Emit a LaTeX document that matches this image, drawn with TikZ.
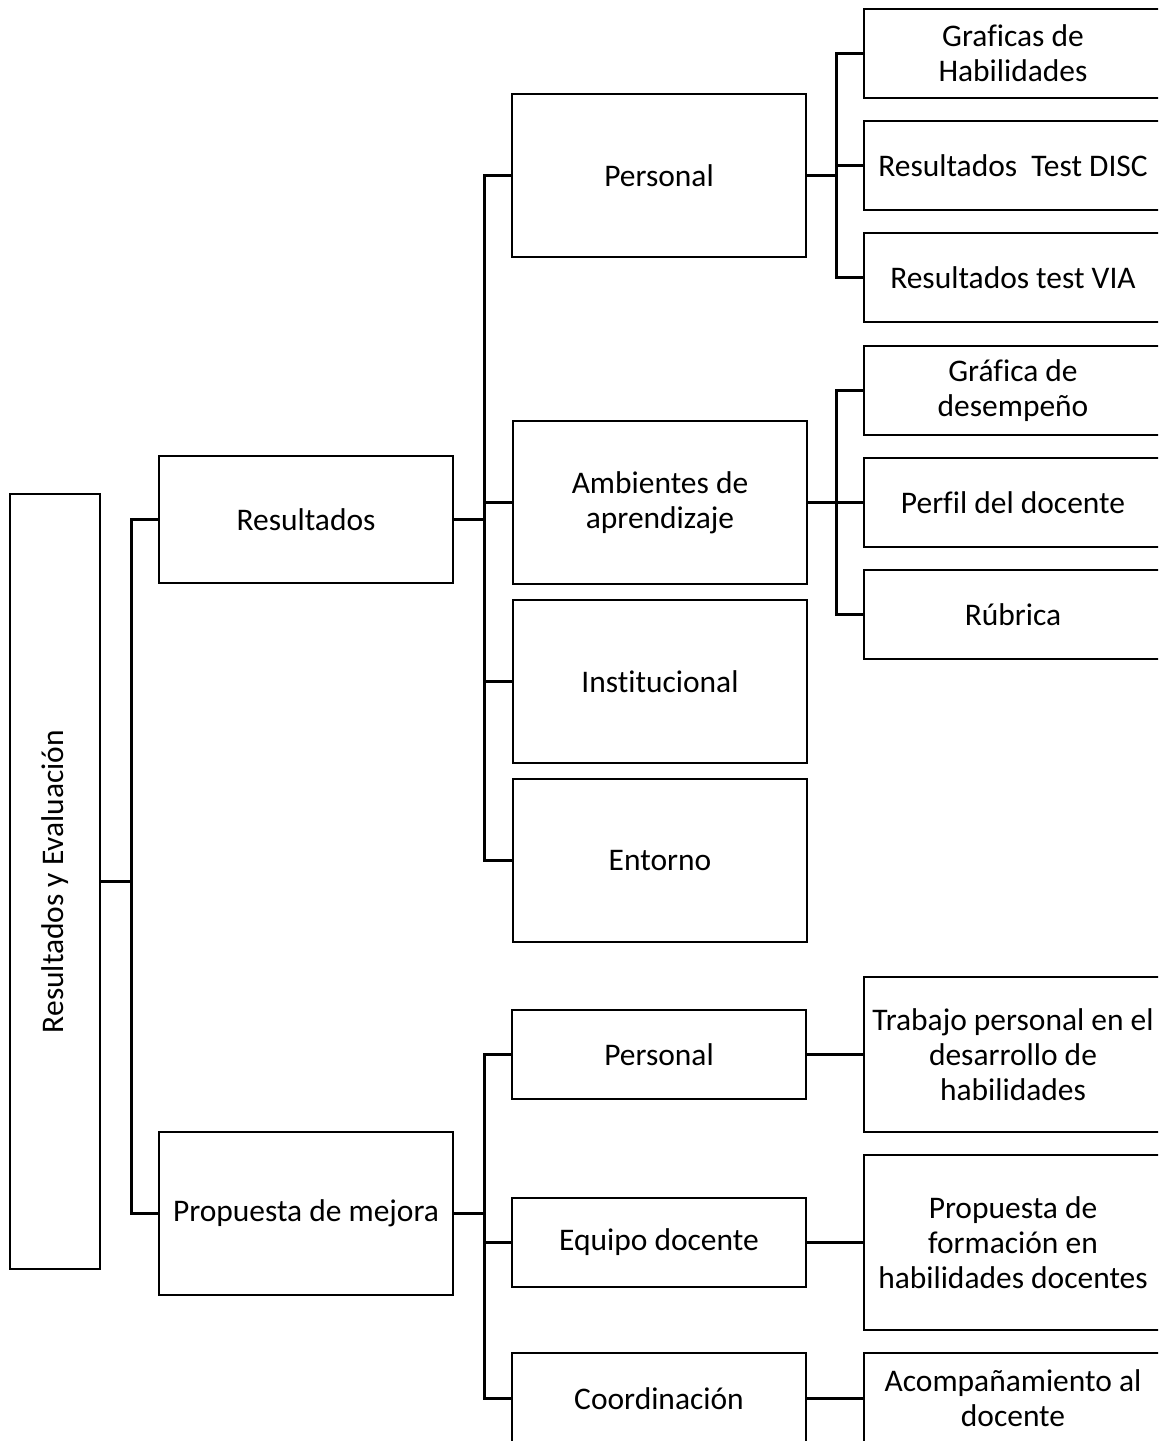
\documentclass[tikz,border=0pt]{standalone}
\usepackage{fontspec}
\setmainfont[Ligatures=NoCommon]{Carlito}
\newcommand\mybox[6]{\node[box, minimum width={(#4-#2)*0.75pt}, minimum height={(#5-#3)*0.75pt}] (#1) at ({(#2+#4)/2},{(#3+#5)/2}) {#6};}
\begin{document}
\begin{tikzpicture}[x=0.75pt,y=-0.75pt,
  box/.style={draw, line width=1.9pt, inner sep=0pt, align=center, font=\fontsize{23.6}{26.3}\selectfont},
  conn/.style={line width=1.9pt},
  lbl/.style={inner sep=0pt, font=\fontsize{23.6}{26.3}\selectfont}]
\useasboundingbox (0,0) rectangle (1158,1441);
\clip (0,0) rectangle (1158,1441);
% root
\mybox{root}{10}{494}{100}{1269}{}
\node[lbl, rotate=90] (roottext) at (root.center) {Resultados y Evaluación};
% level 1
\mybox{res}{159}{456}{453}{583}{Resultados}
\mybox{prop}{159}{1132}{453}{1295}{Propuesta de mejora}
% level 2 (Resultados)
\mybox{per}{512}{94}{806}{257}{Personal}
\mybox{amb}{513}{421}{807}{584}{Ambientes de\\aprendizaje}
\mybox{inst}{513}{600}{807}{763}{Institucional}
\mybox{ent}{513}{779}{807}{942}{Entorno}
% level 2 (Propuesta)
\mybox{per2}{512}{1010}{806}{1099}{Personal}
\mybox{equ}{512}{1198}{806}{1287}{Equipo docente}
\mybox{coo}{512}{1353}{806}{1444}{Coordinación}
% level 3
\mybox{graf}{864}{9}{1162}{98}{Graficas de\\Habilidades}
\mybox{disc}{864}{121}{1162}{210}{Resultados\ \ Test DISC}
\mybox{via}{864}{233}{1162}{322}{Resultados test VIA}
\mybox{des}{864}{346}{1162}{435}{Gráfica de\\desempeño}
\mybox{perf}{864}{458}{1162}{547}{Perfil del docente}
\mybox{rub}{864}{570}{1162}{659}{Rúbrica}
\mybox{trab}{864}{977}{1162}{1132}{Trabajo personal en el\\desarrollo de\\habilidades}
\mybox{form}{864}{1155}{1162}{1330}{Propuesta de\\formación en\\habilidades docentes}
\mybox{aco}{864}{1353}{1162}{1444}{Acompañamiento al\\docente}
% connectors
\draw[conn] (root.east) -- ++(30,0) coordinate (j0);
\draw[conn] (j0) |- (res.west);
\draw[conn] (j0) |- (prop.west);
\draw[conn] (res.east) -- ++(30,0) coordinate (j1);
\foreach \n in {per,amb,inst,ent} \draw[conn] (j1) |- (\n.west);
\draw[conn] (per.east) -- ++(29,0) coordinate (j2);
\foreach \n in {graf,disc,via} \draw[conn] (j2) |- (\n.west);
\draw[conn] (amb.east) -- ++(28,0) coordinate (j3);
\foreach \n in {des,perf,rub} \draw[conn] (j3) |- (\n.west);
\draw[conn] (prop.east) -- ++(30,0) coordinate (j4);
\foreach \n in {per2,equ,coo} \draw[conn] (j4) |- (\n.west);
\draw[conn] (per2.east) -- (trab.west);
\draw[conn] (equ.east) -- (form.west);
\draw[conn] (coo.east) -- (aco.west);
\end{tikzpicture}
\end{document}
